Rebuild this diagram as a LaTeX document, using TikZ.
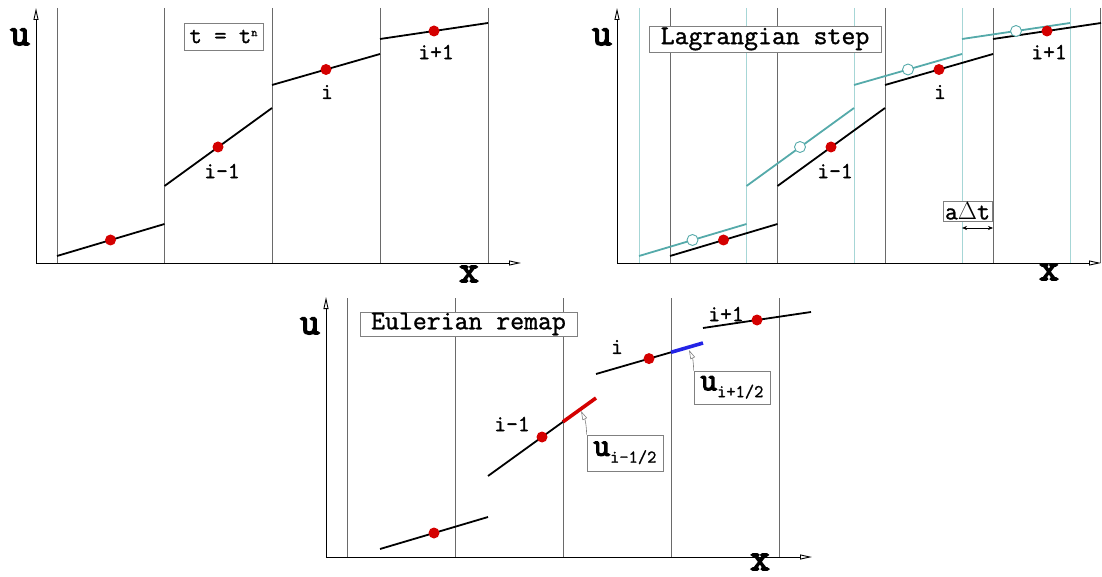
\documentclass[tikz,border=0pt]{standalone}
\usepackage{fontspec}
\setmainfont{Latin Modern Mono}[FakeBold=1.2]
\newfontfamily\heavytt{Latin Modern Mono}[FakeBold=4]
\usetikzlibrary{arrows.meta}
\definecolor{dotred}{HTML}{D40000}
\definecolor{tealseg}{HTML}{55AAAA}
\definecolor{tealgrid}{HTML}{A6D6D6}
\definecolor{gridgray}{HTML}{6A6A6A}
\definecolor{segblue}{HTML}{2424E6}
\begin{document}
\begin{tikzpicture}[x=1pt,y=-1pt,
  axis/.style={line width=0.9pt, -{Triangle[open,length=12pt,width=5pt]}},
  gridline/.style={gridgray, line width=0.8pt},
  tgridline/.style={tealgrid, line width=0.8pt},
  seg/.style={line width=1.8pt, black},
  tseg/.style={line width=1.8pt, tealseg},
  cseg/.style={line width=3.6pt},
  rdot/.style={circle, fill=dotred, inner sep=0pt, minimum size=11pt},
  odot/.style={circle, draw=tealseg, fill=white, line width=0.9pt, inner sep=0pt, minimum size=11pt},
  ulab/.style={font=\fontsize{38}{38}\heavytt},
  ilab/.style={font=\fontsize{23}{23}\selectfont\bfseries},
  titlebox/.style={draw=gray, fill=white, line width=0.7pt, inner sep=0pt, font=\fontsize{27}{27}\selectfont\bfseries},
  leader/.style={gray, line width=0.6pt, -{Triangle[open,length=9pt,width=5pt]}},
]
\useasboundingbox (0,0) rectangle (1102,577);

% ---------------- top-left panel ----------------
\foreach \x in {57,164.5,272,380,488} \draw[gridline] (\x,8) -- (\x,263);
\coordinate (tlO) at (36,263);
\coordinate (tlY) at (36,8);
\coordinate (tlX) at (521,263);
\draw[axis] (tlO) -- (tlY);
\draw[axis] (tlO) -- (tlX);
\node[ulab] (tlu) at (20,37) {u};
\node[ulab] (tlx) at (469,274) {x};
\node[titlebox, minimum width=79pt, minimum height=27pt, font=\fontsize{24}{24}\selectfont\bfseries] (tlbox) at (223.5,36.5) {t = t\raisebox{7pt}{\fontsize{12}{12}\selectfont n}};

\draw[seg] (57,256) -- (164.5,224);
\draw[seg] (164.5,186) -- (272,108);
\draw[seg] (272,85) -- (380,54);
\draw[seg] (380,39) -- (488,23);
\node[rdot] (tld1) at (110.5,240) {};
\node[rdot] (tld2) at (218,147) {};
\node[rdot] (tld3) at (326,69.5) {};
\node[rdot] (tld4) at (434,31) {};
\node[ilab] (tll2) at (222,171) {i-1};
\node[ilab] (tll3) at (327,92) {i};
\node[ilab] (tll4) at (436,52) {i+1};

% ---------------- top-right panel ----------------
\foreach \x in {639,746.5,854,962,1070} \draw[tgridline] (\x,8) -- (\x,263);
\foreach \x in {670,777.5,885,993,1100.5} \draw[gridline] (\x,8) -- (\x,263);
\coordinate (trO) at (617,263);
\coordinate (trY) at (617,8);
\coordinate (trX) at (1101,263);
\draw[axis] (trO) -- (trY);
\draw[axis] (trO) -- (trX);
\node[ulab] (tru) at (602,37) {u};
\node[ulab] (trx) at (1049,272) {x};
\node[titlebox, minimum width=232pt, minimum height=26pt] (trbox) at (765,39) {Lagrangian step};

\draw[seg] (670,256) -- (777.5,224);
\draw[seg] (777.5,186) -- (885,108);
\draw[seg] (885,85) -- (993,54);
\draw[seg] (993,39) -- (1101,23);
\draw[tseg] (639,256) -- (746.5,224);
\draw[tseg] (746.5,186) -- (854,108);
\draw[tseg] (854,85) -- (962,54);
\draw[tseg] (962,39) -- (1070,23);
\node[odot] (tro1) at (692.5,240) {};
\node[odot] (tro2) at (800,147) {};
\node[odot] (tro3) at (908,69.5) {};
\node[odot] (tro4) at (1016,31) {};
\node[rdot] (trd1) at (723.5,240) {};
\node[rdot] (trd2) at (831,147) {};
\node[rdot] (trd3) at (939,69.5) {};
\node[rdot] (trd4) at (1047,31) {};
\node[ilab] (trl2) at (835,171) {i-1};
\node[ilab] (trl3) at (940,92) {i};
\node[ilab] (trl4) at (1049,52) {i+1};

\node[titlebox, minimum width=49pt, minimum height=20pt, font=\fontsize{25}{25}\selectfont\bfseries] (adt) at (967.5,211) {a$\Delta$t};
\coordinate (da1) at (962,228);
\coordinate (da2) at (993,228);
\draw[line width=0.6pt, {Stealth[length=5pt,width=4pt]}-{Stealth[length=5pt,width=4pt]}] (da1) -- (da2);

% ---------------- bottom panel ----------------
\foreach \x in {347,455.5,563,671,779} \draw[gridline] (\x,298) -- (\x,557);
\coordinate (bO) at (326,557);
\coordinate (bY) at (326,297);
\coordinate (bX) at (812,557);
\draw[axis] (bO) -- (bY);
\draw[axis] (bO) -- (bX);
\node[ulab] (bu) at (310,326) {u};
\node[ulab] (bx) at (760,562) {x};
\node[titlebox, minimum width=217pt, minimum height=24pt] (bbox) at (468.5,324) {Eulerian remap};

\draw[seg] (380,549) -- (488,517);
\draw[seg] (488,476) -- (563,421.8);
\draw[cseg, dotred] (563,421.8) -- (596,398);
\draw[seg] (596,374) -- (671,352.3);
\draw[cseg, segblue] (671,352.3) -- (703,343);
\draw[seg] (703,328) -- (811,312);
\node[rdot] (bd1) at (434,533) {};
\node[rdot] (bd2) at (542,437) {};
\node[rdot] (bd3) at (649,358.6) {};
\node[rdot] (bd4) at (757,320) {};
\node[ilab] (bl2) at (512,424) {i-1};
\node[ilab] (bl3) at (617,347) {i};
\node[ilab] (bl4) at (726,314) {i+1};

\node[titlebox, minimum width=76pt, minimum height=36pt] (bm) at (625,453)
  {{\fontsize{32}{32}\heavytt u}\raisebox{-7pt}{\fontsize{18}{18}\selectfont\bfseries i-1/2}};
\node[titlebox, minimum width=76pt, minimum height=33pt] (bp) at (732,387.5)
  {{\fontsize{32}{32}\heavytt u}\raisebox{-7pt}{\fontsize{18}{18}\selectfont\bfseries i+1/2}};
\coordinate (mtip) at (581,411);
\coordinate (ptip) at (689,350);
\draw[leader] (bm.north west) to[bend right=12] (mtip);
\draw[leader] (bp.north west) to[bend right=12] (ptip);
\end{tikzpicture}
\end{document}
